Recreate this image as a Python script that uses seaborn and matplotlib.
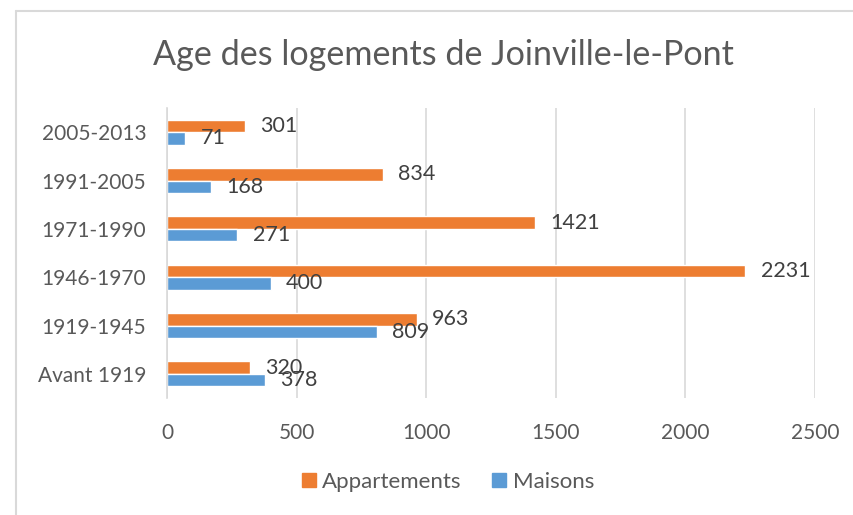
import matplotlib
matplotlib.use("Agg")
import matplotlib.pyplot as plt
import pandas as pd
import seaborn as sns
from matplotlib.lines import Line2D

periods = ["2005-2013", "1991-2005", "1971-1990", "1946-1970", "1919-1945", "Avant 1919"]
appartements = [301, 834, 1421, 2231, 963, 320]
maisons = [71, 168, 271, 400, 809, 378]
series = ["Appartements", "Maisons"]
colors = ["#ED7D31", "#5B9BD5"]
x_ticks = [0, 500, 1000, 1500, 2000, 2500]

df = pd.DataFrame({
    "periode": periods * 2,
    "valeur": appartements + maisons,
    "type": [series[0]] * len(periods) + [series[1]] * len(periods),
})

sns.set_theme(style="white")
plt.rcParams["font.family"] = ["Lato", "DejaVu Sans"]

fig = plt.figure(figsize=(8.54, 5.15), dpi=100)
ax = fig.add_axes([167 / 854, 1 - 398 / 515, 648 / 854, 290 / 515])

sns.barplot(data=df, x="valeur", y="periode", hue="type", order=periods,
            hue_order=series, palette=colors, orient="h", width=0.52,
            saturation=1, ax=ax, legend=False)

for cont in ax.containers:
    ax.bar_label(cont, padding=11, fontsize=15.5, color="#404040")

ax.set_xlim(0, 2500)
ax.set_xticks(x_ticks)
ax.set_xlabel("")
ax.set_ylabel("")
ax.grid(axis="x", color="#D9D9D9", linewidth=1.2)
ax.set_axisbelow(True)
for s in ["top", "right", "bottom"]:
    ax.spines[s].set_visible(False)
ax.spines["left"].set_color("#D9D9D9")
ax.spines["left"].set_linewidth(1.2)
ax.tick_params(axis="x", length=0, pad=18, labelsize=15, labelcolor="#595959")
ax.tick_params(axis="y", length=0, pad=15, labelsize=15, labelcolor="#595959")

fig.text(443 / 854, 1 - 55 / 515, "Age des logements de Joinville-le-Pont",
         ha="center", va="center", fontsize=24.6, color="#595959")

handles = [Line2D([], [], marker="s", linestyle="", markersize=10,
                  markerfacecolor=c, markeredgecolor=c) for c in colors]
fig.legend(handles, series, loc="center", bbox_to_anchor=(447 / 854, 1 - 482 / 515),
           ncol=2, frameon=False, fontsize=16, labelcolor="#595959",
           handletextpad=0.2, columnspacing=1.3, handlelength=0.8)

# chart border (top and left visible)
fig.add_artist(Line2D([16 / 854, 1], [1 - 10.5 / 515] * 2, color="#D9D9D9", lw=1.5))
fig.add_artist(Line2D([16 / 854] * 2, [0, 1 - 10.5 / 515], color="#D9D9D9", lw=1.5))

fig.savefig("out.png", dpi=100)
